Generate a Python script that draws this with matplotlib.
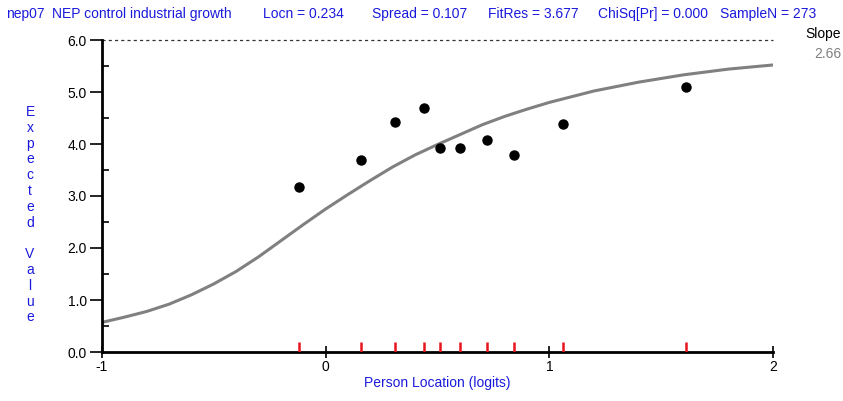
import matplotlib.pyplot as plt

# observed class means (person location, expected value)
obs_x = [-0.12, 0.16, 0.31, 0.44, 0.51, 0.60, 0.72, 0.84, 1.06, 1.61]
obs_y = [3.17, 3.69, 4.42, 4.69, 3.92, 3.92, 4.08, 3.79, 4.38, 5.10]

# expected value curve
curve_x = [-1.0, -0.9, -0.8, -0.7, -0.6, -0.5, -0.4, -0.3, -0.2, -0.1, 0.0, 0.1, 0.2, 0.3,
           0.4, 0.5, 0.6, 0.7, 0.8, 0.9, 1.0, 1.2, 1.4, 1.6, 1.8, 2.0]
curve_y = [0.57, 0.67, 0.78, 0.92, 1.10, 1.31, 1.55, 1.83, 2.14, 2.45, 2.75, 3.03, 3.30, 3.56,
           3.79, 3.99, 4.18, 4.37, 4.53, 4.67, 4.80, 5.02, 5.19, 5.33, 5.44, 5.52]

y_ticks = [0, 1, 2, 3, 4, 5, 6]
x_ticks = [-1, 0, 1, 2]

blue = '#1a1adc'
fnt = ['Liberation Sans Narrow', 'Liberation Sans', 'DejaVu Sans']
plt.rcParams['font.family'] = fnt

fig = plt.figure(figsize=(8.43, 4.01), dpi=100)
ax = fig.add_axes([102/843, 1 - 352/401, 671/843, 312/401])

ax.plot(curve_x, curve_y, color='#808080', lw=2.2, zorder=2)
ax.plot(obs_x, obs_y, 'o', color='black', ms=6.5, zorder=3)
ax.vlines(obs_x, 0, 0.19, color='#e8141e', lw=1.8, zorder=3)
ax.axhline(6, color='#333333', lw=0.9, ls=(0, (2.5, 2.5)), clip_on=False)

ax.set_xlim(-1, 2)
ax.set_ylim(0, 6)
ax.set_yticks(y_ticks)
ax.set_yticklabels(['%.1f' % v for v in y_ticks], fontsize=10)
ax.set_yticks([v + 0.5 for v in y_ticks[:-1]], minor=True)
ax.set_xticks(x_ticks)
ax.set_xticklabels([str(v) for v in x_ticks], fontsize=10)
ax.tick_params(axis='y', which='major', direction='out', length=9, width=1.2, pad=2)
ax.tick_params(axis='y', which='minor', direction='in', length=5, width=1.2)
ax.tick_params(axis='x', which='major', direction='inout', length=9, width=1.2, pad=1)
for s in ['top', 'right']:
    ax.spines[s].set_visible(False)
for s in ['left', 'bottom']:
    ax.spines[s].set_linewidth(2)

ax.set_xlabel('Person Location (logits)', color=blue, fontsize=10, labelpad=2)

# vertical stacked y label
label = 'Expected Value'
y0 = 1 - 112/401
step = 15.8/401
for i, ch in enumerate(label):
    if ch != ' ':
        fig.text(30/843, y0 - i*step, ch, color=blue, fontsize=10, ha='center', va='center')

# header
head = [(6, 'nep07'), (52, 'NEP control industrial growth'), (263, 'Locn = 0.234'),
        (372, 'Spread = 0.107'), (488, 'FitRes = 3.677'), (598, 'ChiSq[Pr] = 0.000'),
        (720, 'SampleN = 273')]
for px, t in head:
    fig.text(px/843, 1 - 14/401, t, color=blue, fontsize=10, va='center', ha='left')

fig.text(841/843, 1 - 34/401, 'Slope', color='black', fontsize=10, ha='right', va='center')
fig.text(841/843, 1 - 54/401, '2.66', color='#808080', fontsize=10, ha='right', va='center')

fig.savefig('out.png', dpi=100, facecolor='white')
